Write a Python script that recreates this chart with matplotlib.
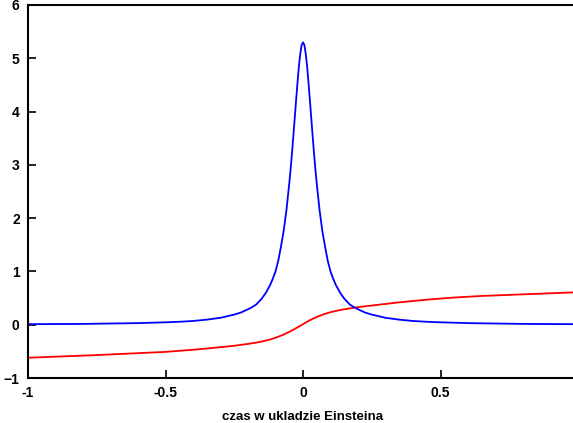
import matplotlib
matplotlib.use("Agg")
import matplotlib.pyplot as plt

x_blue = [-1.0, -0.8, -0.6, -0.5, -0.45, -0.4, -0.35, -0.3, -0.25, -0.225, -0.2, -0.185,
          -0.17, -0.15, -0.135, -0.12, -0.11, -0.1, -0.09, -0.08, -0.07, -0.06, -0.05,
          -0.045, -0.04, -0.035, -0.03, -0.025, -0.02, -0.015, -0.01, -0.005, 0.0,
          0.005, 0.01, 0.015, 0.02, 0.025, 0.03, 0.035, 0.04, 0.045, 0.05, 0.06, 0.07,
          0.08, 0.09, 0.1, 0.11, 0.12, 0.135, 0.15, 0.17, 0.185, 0.2, 0.225, 0.25,
          0.3, 0.35, 0.4, 0.45, 0.5, 0.6, 0.8, 1.0]
y_blue = [0.01, 0.015, 0.03, 0.045, 0.055, 0.07, 0.095, 0.13, 0.19, 0.23, 0.29, 0.33,
          0.38, 0.49, 0.6, 0.74, 0.86, 1.0, 1.2, 1.47, 1.77, 2.16, 2.65,
          2.92, 3.22, 3.55, 3.88, 4.22, 4.54, 4.85, 5.08, 5.25, 5.3,
          5.25, 5.08, 4.85, 4.54, 4.22, 3.88, 3.55, 3.22, 2.92, 2.65, 2.16, 1.77,
          1.47, 1.2, 1.0, 0.86, 0.74, 0.6, 0.49, 0.38, 0.33, 0.29, 0.23, 0.19,
          0.13, 0.095, 0.07, 0.055, 0.045, 0.03, 0.015, 0.01]

x_red = [-1.0, -0.875, -0.75, -0.625, -0.5, -0.4, -0.325, -0.25, -0.2, -0.175, -0.15,
         -0.125, -0.1, -0.075, -0.05, -0.025, 0.0, 0.025, 0.05, 0.075, 0.1, 0.125,
         0.15, 0.2, 0.25, 0.35, 0.45, 0.55, 0.65, 0.8, 1.0]
y_red = [-0.62, -0.595, -0.57, -0.54, -0.51, -0.47, -0.435, -0.395, -0.36, -0.34, -0.315,
         -0.285, -0.245, -0.195, -0.135, -0.065, 0.01, 0.085, 0.145, 0.195, 0.235, 0.265,
         0.29, 0.33, 0.36, 0.42, 0.47, 0.51, 0.54, 0.57, 0.61]

xticks = [-1, -0.5, 0, 0.5]
xtick_labels = ["-1", "-0.5", "0", "0.5"]
yticks = [-1, 0, 1, 2, 3, 4, 5, 6]

plt.rcParams['font.family'] = ['Liberation Sans', 'DejaVu Sans']
plt.rcParams['font.weight'] = 'bold'

fig = plt.figure(figsize=(5.73, 4.23), dpi=100)
ax = fig.add_axes([28 / 573, 45 / 423, 550 / 573, 373 / 423])

ax.plot(x_red, y_red, color='#ff0000', lw=1.3)
ax.plot(x_blue, y_blue, color='#0000ff', lw=1.3)

ax.set_xlim(-1, 1)
ax.set_ylim(-1, 6)
ax.set_xticks(xticks)
ax.set_xticklabels(xtick_labels)
ax.set_yticks(yticks)
ax.tick_params(direction='in', length=6, width=1.2, labelsize=10, pad=6,
               top=False, right=False)
for s in ax.spines.values():
    s.set_linewidth(1.5)
ax.set_xlabel("czas w ukladzie Einsteina", fontsize=9.5, fontweight='bold', labelpad=8)

fig.savefig("out.png", dpi=100)
